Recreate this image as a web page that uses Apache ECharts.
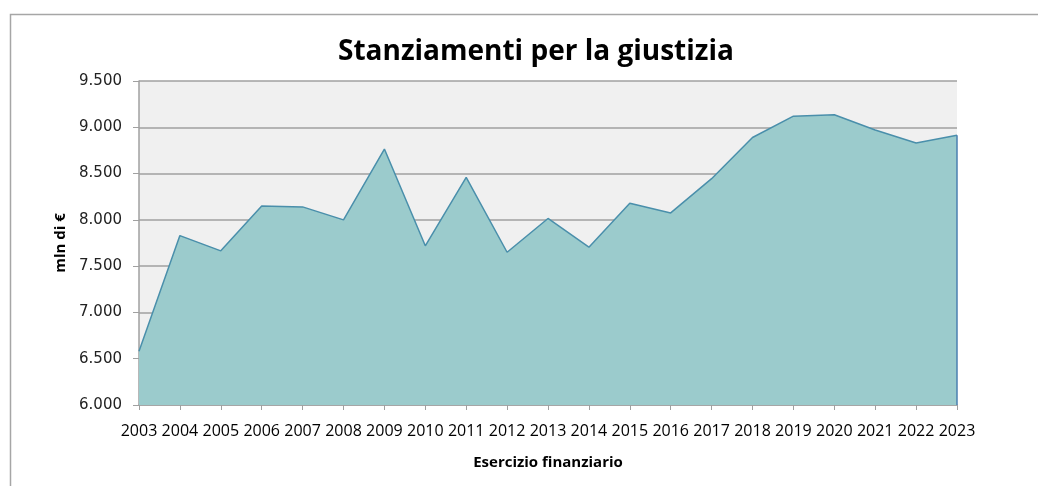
<!DOCTYPE html>
<html>
<head>
<meta charset="utf-8">
<script src="https://cdn.jsdelivr.net/npm/echarts@6/dist/echarts.min.js"></script>
<style>
html,body{margin:0;padding:0;background:#fff;}
#chart{width:1038px;height:486px;}
</style>
</head>
<body>
<div id="chart"></div>
<script>
const titleText = 'Stanziamenti per la giustizia';
const xAxisName = 'Esercizio finanziario';
const yAxisName = 'mln di €';
const years = ['2003','2004','2005','2006','2007','2008','2009','2010','2011','2012','2013','2014','2015','2016','2017','2018','2019','2020','2021','2022','2023'];
const appropriations = [6580, 7830, 7665, 8150, 8140, 8000, 8765, 7720, 8460, 7650, 8015, 7705, 8180, 8075, 8445, 8890, 9120, 9135, 8970, 8830, 8915];
const yMin = 6000, yMax = 9500, yStep = 500;

function fmt(v){
  const s = String(Math.round(v));
  return s.replace(/\B(?=(\d{3})+(?!\d))/g, '.');
}

const chart = echarts.init(document.getElementById('chart'), null, {renderer:'canvas'});
const lastIdx = years.length - 1;
chart.setOption({
  animation: false,
  backgroundColor: '#ffffff',
  graphic: [{
    type: 'rect',
    shape: {x: 10.5, y: 14.5, width: 1100, height: 600},
    style: {fill: 'none', stroke: '#a6a6a6', lineWidth: 1.5},
    silent: true, z: -10
  }],
  title: {
    text: titleText,
    left: 333,
    top: 33,
    textStyle: {fontFamily: 'Open Sans', fontWeight: 'bold', fontSize: 28, color: '#000'}
  },
  grid: {
    left: 139, right: 81, top: 81, bottom: 81,
    show: true, backgroundColor: '#f0f0f0', borderWidth: 0
  },
  xAxis: {
    type: 'category',
    data: years,
    boundaryGap: false,
    name: xAxisName,
    nameLocation: 'middle',
    nameGap: 50,
    nameTextStyle: {fontFamily: 'Open Sans', fontWeight: 'bold', fontSize: 15, color: '#000'},
    axisLine: {lineStyle: {color: '#a0a0a0', width: 1.5}},
    axisTick: {show: true, alignWithLabel: true, length: 5, lineStyle: {color: '#a0a0a0'}},
    axisLabel: {interval: 0, margin: 18, fontFamily: 'Open Sans', fontSize: 16, color: '#000'},
    splitLine: {show: false}
  },
  yAxis: {
    type: 'value',
    min: yMin, max: yMax, interval: yStep,
    name: yAxisName,
    nameLocation: 'middle',
    nameGap: 67,
    nameRotate: 90,
    nameTextStyle: {fontFamily: 'Open Sans', fontWeight: 'bold', fontSize: 15, color: '#000'},
    axisLine: {show: true, lineStyle: {color: '#a0a0a0', width: 1.5}},
    axisTick: {show: true, length: 6, lineStyle: {color: '#a0a0a0'}},
    axisLabel: {margin: 17, fontFamily: 'DejaVu Sans', fontSize: 15, color: '#222', formatter: fmt},
    splitLine: {show: true, lineStyle: {color: '#a0a0a0', width: 1.5}}
  },
  series: [{
    type: 'line',
    data: appropriations,
    symbol: 'none',
    lineStyle: {color: '#4a8fab', width: 1.5},
    areaStyle: {color: '#9bcbcc', opacity: 1},
    z: 3,
    markLine: {
      silent: true,
      symbol: 'none',
      label: {show: false},
      lineStyle: {color: '#4a7fb0', width: 1.5, type: 'solid'},
      data: [[
        {coord: [years[lastIdx], yMin]},
        {coord: [years[lastIdx], appropriations[lastIdx]]}
      ]]
    }
  }]
});
</script>
</body>
</html>
